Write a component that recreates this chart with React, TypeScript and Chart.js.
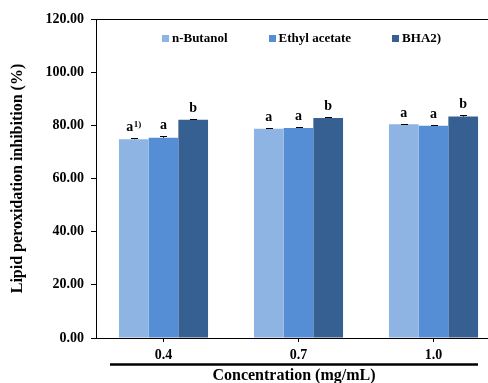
import React, { useEffect, useRef } from "react";
import { Chart, registerables } from "chart.js";

Chart.register(...registerables);

// ---------- data ----------
const categories = ["0.4", "0.7", "1.0"];
const seriesNames = ["n-Butanol", "Ethyl acetate", "BHA2)"];
const nButanol = [74.8, 78.7, 80.4];
const ethylAcetate = [75.3, 79.0, 79.8];
const bha = [82.1, 82.8, 83.3];
const nButanolErr = [0.35, 0.25, 0.25];
const ethylAcetateErr = [0.6, 0.25, 0.4];
const bhaErr = [0.25, 0.25, 0.6];
const nButanolLetters = ["a", "a", "a"];
const ethylAcetateLetters = ["a", "a", "a"];
const bhaLetters = ["b", "b", "b"];
const nButanolMarks = ["1)", "", ""];
const ethylAcetateMarks = ["", "", ""];
const bhaMarks = ["", "", ""];
const yTicks = [0, 20, 40, 60, 80, 100, 120];
const yTitle = "Lipid peroxidation inhibition (%)";
const xTitle = "Concentration (mg/mL)";

const seriesValues = [nButanol, ethylAcetate, bha];
const seriesErrors = [nButanolErr, ethylAcetateErr, bhaErr];
const seriesLetters = [nButanolLetters, ethylAcetateLetters, bhaLetters];
const seriesMarks = [nButanolMarks, ethylAcetateMarks, bhaMarks];
const seriesColors = ["#8DB4E2", "#558ED5", "#376092"];

const FONT = '"Liberation Serif", "Times New Roman", serif';

const annotPlugin = {
  id: "annot",
  afterDatasetsDraw(chart: any) {
    const ctx = chart.ctx;
    const ys = chart.scales.y;
    chart.data.datasets.forEach((ds: any, i: number) => {
      const meta = chart.getDatasetMeta(i);
      meta.data.forEach((bar: any, j: number) => {
        const v = ds.data[j];
        const e = seriesErrors[i][j];
        const yBar = ys.getPixelForValue(v);
        const yTop = Math.round(ys.getPixelForValue(v + e)) + 0.5;
        const x = Math.round(bar.x) + 0.5;
        ctx.save();
        ctx.strokeStyle = "#000";
        ctx.lineWidth = 1;
        ctx.beginPath();
        ctx.moveTo(x, yBar);
        ctx.lineTo(x, yTop);
        ctx.moveTo(x - 3.5, yTop);
        ctx.lineTo(x + 3.5, yTop);
        ctx.stroke();

        const letter = seriesLetters[i][j];
        const mark = seriesMarks[i][j];
        ctx.fillStyle = "#000";
        ctx.textBaseline = "alphabetic";
        ctx.textAlign = "left";
        ctx.font = `bold 14px ${FONT}`;
        const lw = ctx.measureText(letter).width;
        ctx.font = `bold 9px ${FONT}`;
        const mw = mark ? ctx.measureText(mark).width + 0.5 : 0;
        const start = bar.x - (lw + mw) / 2;
        const base = yTop - 8;
        ctx.font = `bold 14px ${FONT}`;
        ctx.fillText(letter, start, base);
        if (mark) {
          ctx.font = `bold 9px ${FONT}`;
          ctx.fillText(mark, start + lw + 0.5, base - 4);
        }
        ctx.restore();
      });
    });
  },
  afterDraw(chart: any) {
    const ctx = chart.ctx;
    const area = chart.chartArea;
    ctx.save();
    // legend
    ctx.font = `bold 13px ${FONT}`;
    ctx.textBaseline = "middle";
    ctx.textAlign = "left";
    const box = 7;
    const gap = 3;
    const spacing = 41;
    const widths = seriesNames.map((n) => ctx.measureText(n).width);
    const total =
      widths.reduce((a, b) => a + b, 0) + seriesNames.length * (box + gap) + spacing * (seriesNames.length - 1);
    let lx = (area.left + area.right) / 2 - total / 2 + 3;
    const ly = 39;
    seriesNames.forEach((n, i) => {
      ctx.fillStyle = seriesColors[i];
      ctx.fillRect(Math.round(lx), ly - 4, box, box);
      ctx.fillStyle = "#000";
      ctx.fillText(n, lx + box + gap, ly);
      lx += box + gap + widths[i] + spacing;
    });
    // y title
    ctx.save();
    ctx.translate(18, (area.top + area.bottom) / 2);
    ctx.rotate(-Math.PI / 2);
    ctx.textAlign = "center";
    ctx.textBaseline = "middle";
    ctx.font = `bold 16px ${FONT}`;
    ctx.fillText(yTitle, 0, 0);
    ctx.restore();
    // thick rule under tick labels
    const x0 = 110;
    const x1 = 478;
    ctx.strokeStyle = "#000";
    ctx.lineWidth = 2.5;
    ctx.beginPath();
    ctx.moveTo(x0, 364.5);
    ctx.lineTo(x1, 364.5);
    ctx.stroke();
    // x title
    ctx.textAlign = "center";
    ctx.textBaseline = "middle";
    ctx.font = `bold 16px ${FONT}`;
    ctx.fillStyle = "#000";
    ctx.fillText(xTitle, (x0 + x1) / 2, 376);
    ctx.restore();
  },
};

export default function App() {
  const ref = useRef<HTMLCanvasElement | null>(null);
  useEffect(() => {
    if (!ref.current) return;
    const chart = new Chart(ref.current, {
      type: "bar",
      data: {
        labels: categories,
        datasets: seriesNames.map((n, i) => ({
          label: n,
          data: seriesValues[i],
          backgroundColor: seriesColors[i],
          borderWidth: 0,
          categoryPercentage: 0.66,
          barPercentage: 1.0,
        })),
      },
      options: {
        animation: false,
        responsive: false,
        devicePixelRatio: 1,
        layout: { padding: { top: 19, left: 0, right: 0, bottom: 0 } },
        plugins: {
          legend: { display: false },
          tooltip: { enabled: false },
        },
        scales: {
          x: {
            grid: {
              offset: false,
              drawOnChartArea: false,
              drawTicks: true,
              tickLength: 4,
              tickColor: "#000",
              color: "#000",
            },
            border: { display: true, color: "#000", width: 1 },
            ticks: {
              color: "#000",
              font: { family: FONT, size: 14, weight: "bold" },
              padding: 5,
              maxRotation: 0,
            },
            afterFit(scale: any) {
              scale.height = 45;
            },
          },
          y: {
            min: 0,
            max: 120,
            afterBuildTicks(scale: any) {
              scale.ticks = yTicks.map((v) => ({ value: v }));
            },
            grid: {
              drawOnChartArea: true,
              drawTicks: true,
              tickLength: 5,
              tickColor: "#000",
              color: (c: any) => (c.tick && c.tick.value === 120 ? "#000" : "rgba(0,0,0,0)"),
            },
            border: { display: true, color: "#000", width: 1 },
            ticks: {
              color: "#000",
              font: { family: FONT, size: 14, weight: "bold" },
              padding: 7,
              callback: (v: any) => Number(v).toFixed(2),
            },
            afterFit(scale: any) {
              scale.width = 96;
            },
          },
        },
      },
      plugins: [annotPlugin],
    } as any);
    return () => chart.destroy();
  }, []);
  return (
    <div
      style={{
        position: "absolute",
        left: 0,
        top: 0,
        width: 488,
        height: 383,
        overflow: "hidden",
        background: "#fff",
      }}
    >
      <canvas ref={ref} width={501} height={383} style={{ display: "block", width: 501, height: 383 }} />
    </div>
  );
}
